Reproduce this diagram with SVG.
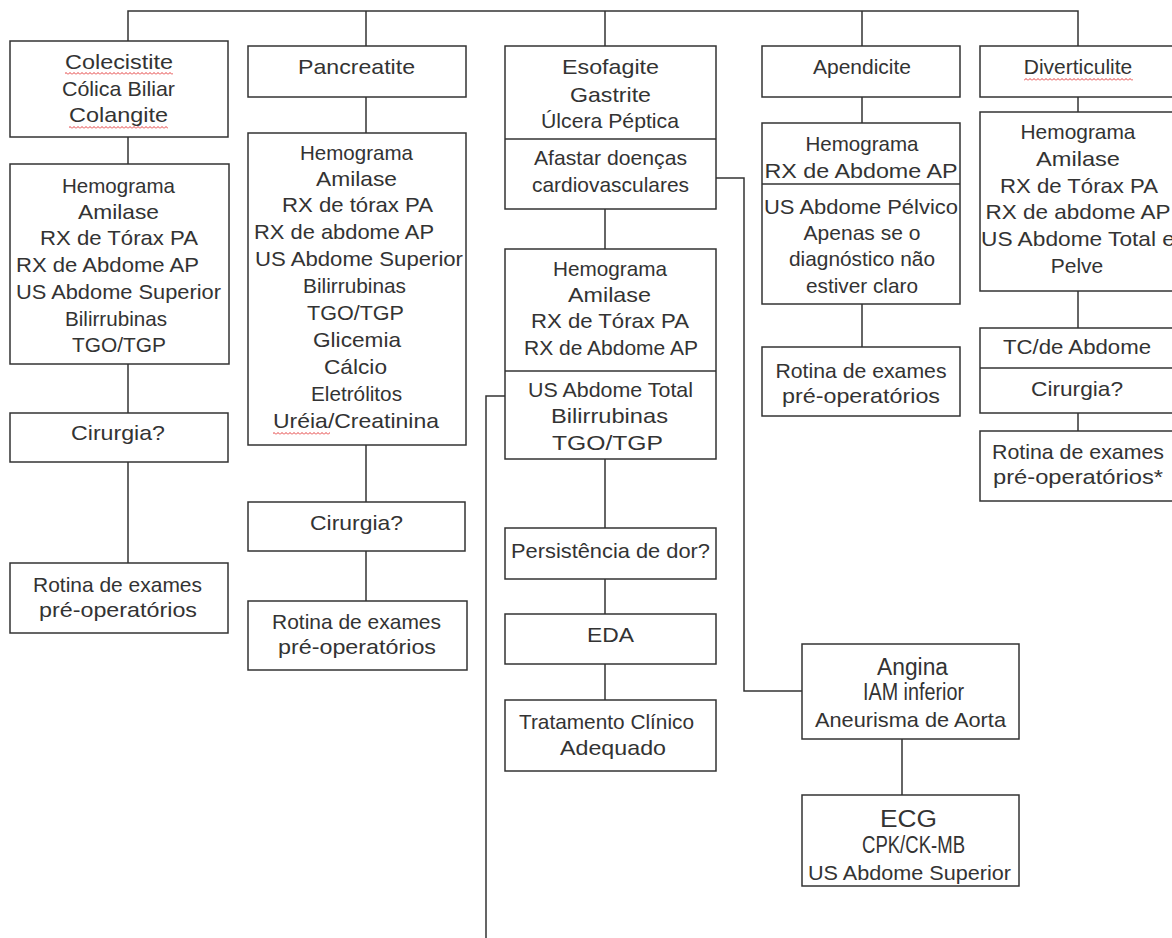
<svg xmlns="http://www.w3.org/2000/svg" width="1172" height="938" viewBox="0 0 1172 938">
  <defs>
    <style>
      .box { fill: #ffffff; stroke: #333333; stroke-width: 1.5; }
      .div { stroke: #333333; stroke-width: 1.5; }
      .link { fill: none; stroke: #333333; stroke-width: 1.5; }
      text { font-family: "Liberation Sans", Arial, sans-serif; font-size: 21px; fill: #333333; text-anchor: middle; }
      .big { font-size: 23px; }
      .sq { fill: url(#squiggle); }
    </style>
    <!-- red wavy spell-check underline -->
    <pattern id="squiggle" width="4" height="3" patternUnits="userSpaceOnUse">
      <path d="M0 2.5 L2 0.5 L4 2.5" fill="none" stroke="#e02828" stroke-width="0.9"/>
    </pattern>
  </defs>

  <rect width="1172" height="938" fill="#ffffff"/>

  <!-- connectors -->
  <g id="connectors">
    <path class="link" d="M128 41 V11 H1078 V46"/>
    <path class="link" d="M366 11 V46"/>
    <path class="link" d="M605 11 V46"/>
    <path class="link" d="M862 11 V46"/>
    <!-- column 1 -->
    <path class="link" d="M128 137 V164"/>
    <path class="link" d="M128 364 V413"/>
    <path class="link" d="M128 462 V563"/>
    <!-- column 2 -->
    <path class="link" d="M366 97 V133"/>
    <path class="link" d="M366 445 V502"/>
    <path class="link" d="M366 551 V601"/>
    <!-- column 3 -->
    <path class="link" d="M605 209 V249"/>
    <path class="link" d="M605 459 V528"/>
    <path class="link" d="M605 579 V614"/>
    <path class="link" d="M605 664 V700"/>
    <path class="link" d="M505 396 H486 V938"/>
    <path class="link" d="M715 178 H744 V691 H802"/>
    <path class="link" d="M902 739 V795"/>
    <!-- column 4 -->
    <path class="link" d="M862 97 V123"/>
    <path class="link" d="M862 304 V347"/>
    <!-- column 5 -->
    <path class="link" d="M1078 97 V112"/>
    <path class="link" d="M1078 291 V328"/>
    <path class="link" d="M1078 413 V431"/>
  </g>

  <!-- column 1 -->
  <g id="colecistite">
    <rect class="box" x="10" y="41" width="218" height="96"/>
    <text x="119" y="69" textLength="108" lengthAdjust="spacingAndGlyphs">Colecistite</text>
    <text x="118.5" y="96" textLength="113" lengthAdjust="spacingAndGlyphs">Cólica Biliar</text>
    <text x="118.5" y="122" textLength="99" lengthAdjust="spacingAndGlyphs">Colangite</text>
    <rect class="sq" x="65" y="72" width="108" height="3"/>
    <rect class="sq" x="69" y="126" width="99" height="3"/>
  </g>
  <g id="exames-colecistite">
    <rect class="box" x="10" y="164" width="219" height="200"/>
    <text x="118.5" y="193" textLength="113" lengthAdjust="spacingAndGlyphs">Hemograma</text>
    <text x="118.5" y="219" textLength="81" lengthAdjust="spacingAndGlyphs">Amilase</text>
    <text x="119" y="245" textLength="158" lengthAdjust="spacingAndGlyphs">RX de Tórax PA</text>
    <text x="107.5" y="272" textLength="183" lengthAdjust="spacingAndGlyphs">RX de Abdome AP</text>
    <text x="118.5" y="299" textLength="205" lengthAdjust="spacingAndGlyphs">US Abdome Superior</text>
    <text x="116" y="326" textLength="102" lengthAdjust="spacingAndGlyphs">Bilirrubinas</text>
    <text x="119" y="352" textLength="94" lengthAdjust="spacingAndGlyphs">TGO/TGP</text>
  </g>
  <g id="cirurgia-colecistite">
    <rect class="box" x="10" y="413" width="218" height="49"/>
    <text x="118" y="440" textLength="94" lengthAdjust="spacingAndGlyphs">Cirurgia?</text>
  </g>
  <g id="rotina-colecistite">
    <rect class="box" x="10" y="563" width="218" height="70"/>
    <text x="117.5" y="592" textLength="169" lengthAdjust="spacingAndGlyphs">Rotina de exames</text>
    <text x="118" y="617" textLength="158" lengthAdjust="spacingAndGlyphs">pré-operatórios</text>
  </g>

  <!-- column 2 -->
  <g id="pancreatite">
    <rect class="box" x="248" y="46" width="218" height="51"/>
    <text x="356.5" y="74" textLength="117" lengthAdjust="spacingAndGlyphs">Pancreatite</text>
  </g>
  <g id="exames-pancreatite">
    <rect class="box" x="248" y="133" width="218" height="312"/>
    <text x="356.5" y="160" textLength="113" lengthAdjust="spacingAndGlyphs">Hemograma</text>
    <text x="356.5" y="186" textLength="81" lengthAdjust="spacingAndGlyphs">Amilase</text>
    <text x="357.5" y="212" textLength="151" lengthAdjust="spacingAndGlyphs">RX de tórax PA</text>
    <text x="344" y="239" textLength="180" lengthAdjust="spacingAndGlyphs">RX de abdome AP</text>
    <text x="359" y="266" textLength="208" lengthAdjust="spacingAndGlyphs">US Abdome Superior</text>
    <text x="354.5" y="293" textLength="103" lengthAdjust="spacingAndGlyphs">Bilirrubinas</text>
    <text x="355.5" y="320" textLength="97" lengthAdjust="spacingAndGlyphs">TGO/TGP</text>
    <text x="357" y="347" textLength="88" lengthAdjust="spacingAndGlyphs">Glicemia</text>
    <text x="355.5" y="374" textLength="63" lengthAdjust="spacingAndGlyphs">Cálcio</text>
    <text x="356.5" y="401" textLength="91" lengthAdjust="spacingAndGlyphs">Eletrólitos</text>
    <text x="356" y="428" textLength="166" lengthAdjust="spacingAndGlyphs">Uréia/Creatinina</text>
    <rect class="sq" x="273" y="432" width="57" height="3"/>
  </g>
  <g id="cirurgia-pancreatite">
    <rect class="box" x="248" y="502" width="217" height="49"/>
    <text x="356.5" y="530" textLength="93" lengthAdjust="spacingAndGlyphs">Cirurgia?</text>
  </g>
  <g id="rotina-pancreatite">
    <rect class="box" x="248" y="601" width="219" height="69"/>
    <text x="356.5" y="629" textLength="169" lengthAdjust="spacingAndGlyphs">Rotina de exames</text>
    <text x="357" y="654" textLength="158" lengthAdjust="spacingAndGlyphs">pré-operatórios</text>
  </g>

  <!-- column 3 -->
  <g id="esofagite">
    <rect class="box" x="505" y="46" width="211" height="163"/>
    <line class="div" x1="505" y1="139" x2="716" y2="139"/>
    <text x="610.5" y="74" textLength="97" lengthAdjust="spacingAndGlyphs">Esofagite</text>
    <text x="610.5" y="102" textLength="81" lengthAdjust="spacingAndGlyphs">Gastrite</text>
    <text x="610" y="128" textLength="138" lengthAdjust="spacingAndGlyphs">Úlcera Péptica</text>
    <text x="610.5" y="165" textLength="153" lengthAdjust="spacingAndGlyphs">Afastar doenças</text>
    <text x="610.5" y="192" textLength="157" lengthAdjust="spacingAndGlyphs">cardiovasculares</text>
  </g>
  <g id="exames-esofagite">
    <rect class="box" x="505" y="249" width="211" height="210"/>
    <line class="div" x1="505" y1="371" x2="716" y2="371"/>
    <text x="610" y="276" textLength="114" lengthAdjust="spacingAndGlyphs">Hemograma</text>
    <text x="609.5" y="302" textLength="83" lengthAdjust="spacingAndGlyphs">Amilase</text>
    <text x="610" y="328" textLength="158" lengthAdjust="spacingAndGlyphs">RX de Tórax PA</text>
    <text x="611" y="355" textLength="174" lengthAdjust="spacingAndGlyphs">RX de Abdome AP</text>
    <text x="610.5" y="397" textLength="165" lengthAdjust="spacingAndGlyphs">US Abdome Total</text>
    <text x="609.5" y="423" textLength="117" lengthAdjust="spacingAndGlyphs">Bilirrubinas</text>
    <text x="607.5" y="450" textLength="111" lengthAdjust="spacingAndGlyphs">TGO/TGP</text>
  </g>
  <g id="persistencia">
    <rect class="box" x="505" y="528" width="211" height="51"/>
    <text x="610.5" y="558" textLength="199" lengthAdjust="spacingAndGlyphs">Persistência de dor?</text>
  </g>
  <g id="eda">
    <rect class="box" x="505" y="614" width="211" height="50"/>
    <text x="610.5" y="642" textLength="47" lengthAdjust="spacingAndGlyphs">EDA</text>
  </g>
  <g id="tratamento">
    <rect class="box" x="505" y="700" width="211" height="71"/>
    <text x="606.5" y="729" textLength="175" lengthAdjust="spacingAndGlyphs">Tratamento Clínico</text>
    <text x="613" y="755" textLength="106" lengthAdjust="spacingAndGlyphs">Adequado</text>
  </g>

  <!-- cardiovascular branch -->
  <g id="angina">
    <rect class="box" x="802" y="644" width="217" height="95"/>
    <text class="big" x="912.5" y="675" textLength="71" lengthAdjust="spacingAndGlyphs">Angina</text>
    <text class="big" x="913.5" y="700" textLength="101" lengthAdjust="spacingAndGlyphs">IAM inferior</text>
    <text x="910.5" y="727" textLength="191" lengthAdjust="spacingAndGlyphs">Aneurisma de Aorta</text>
  </g>
  <g id="ecg">
    <rect class="box" x="802" y="795" width="217" height="91"/>
    <text class="big" x="908.5" y="827" textLength="57" lengthAdjust="spacingAndGlyphs">ECG</text>
    <text class="big" x="913.5" y="853" textLength="103" lengthAdjust="spacingAndGlyphs">CPK/CK-MB</text>
    <text x="909.5" y="880" textLength="203" lengthAdjust="spacingAndGlyphs">US Abdome Superior</text>
  </g>

  <!-- column 4 -->
  <g id="apendicite">
    <rect class="box" x="762" y="46" width="198" height="51"/>
    <text x="862" y="74">Apendicite</text>
  </g>
  <g id="exames-apendicite">
    <rect class="box" x="762" y="123" width="198" height="181"/>
    <line class="div" x1="762" y1="184" x2="960" y2="184"/>
    <text x="862" y="151" textLength="113" lengthAdjust="spacingAndGlyphs">Hemograma</text>
    <text x="861" y="178" textLength="193" lengthAdjust="spacingAndGlyphs">RX de Abdome AP</text>
    <text x="861" y="214" textLength="194" lengthAdjust="spacingAndGlyphs">US Abdome Pélvico</text>
    <text x="862" y="240">Apenas se o</text>
    <text x="862" y="266" textLength="146" lengthAdjust="spacingAndGlyphs">diagnóstico não</text>
    <text x="862" y="293" textLength="112" lengthAdjust="spacingAndGlyphs">estiver claro</text>
  </g>
  <g id="rotina-apendicite">
    <rect class="box" x="762" y="347" width="198" height="69"/>
    <text x="861" y="378" textLength="171" lengthAdjust="spacingAndGlyphs">Rotina de exames</text>
    <text x="861" y="403" textLength="158" lengthAdjust="spacingAndGlyphs">pré-operatórios</text>
  </g>

  <!-- column 5 -->
  <g id="diverticulite">
    <rect class="box" x="980" y="46" width="200" height="51"/>
    <text x="1078" y="74">Diverticulite</text>
    <rect class="sq" x="1024" y="78" width="109" height="3"/>
  </g>
  <g id="exames-diverticulite">
    <rect class="box" x="980" y="112" width="200" height="179"/>
    <text x="1078" y="139" textLength="115" lengthAdjust="spacingAndGlyphs">Hemograma</text>
    <text x="1078" y="166" textLength="84" lengthAdjust="spacingAndGlyphs">Amilase</text>
    <text x="1079" y="193" textLength="158" lengthAdjust="spacingAndGlyphs">RX de Tórax PA</text>
    <text x="1078" y="219" textLength="185" lengthAdjust="spacingAndGlyphs">RX de abdome AP</text>
    <text x="1078" y="246" textLength="194" lengthAdjust="spacingAndGlyphs">US Abdome Total e</text>
    <text x="1077" y="273">Pelve</text>
  </g>
  <g id="tc-abdome">
    <rect class="box" x="980" y="328" width="200" height="85"/>
    <line class="div" x1="980" y1="368" x2="1180" y2="368"/>
    <text x="1077" y="354" textLength="148" lengthAdjust="spacingAndGlyphs">TC/de Abdome</text>
    <text x="1077" y="396" textLength="92" lengthAdjust="spacingAndGlyphs">Cirurgia?</text>
  </g>
  <g id="rotina-diverticulite">
    <rect class="box" x="980" y="431" width="200" height="70"/>
    <text x="1078" y="459" textLength="172" lengthAdjust="spacingAndGlyphs">Rotina de exames</text>
    <text x="1078" y="484" textLength="170" lengthAdjust="spacingAndGlyphs">pré-operatórios*</text>
  </g>
</svg>
